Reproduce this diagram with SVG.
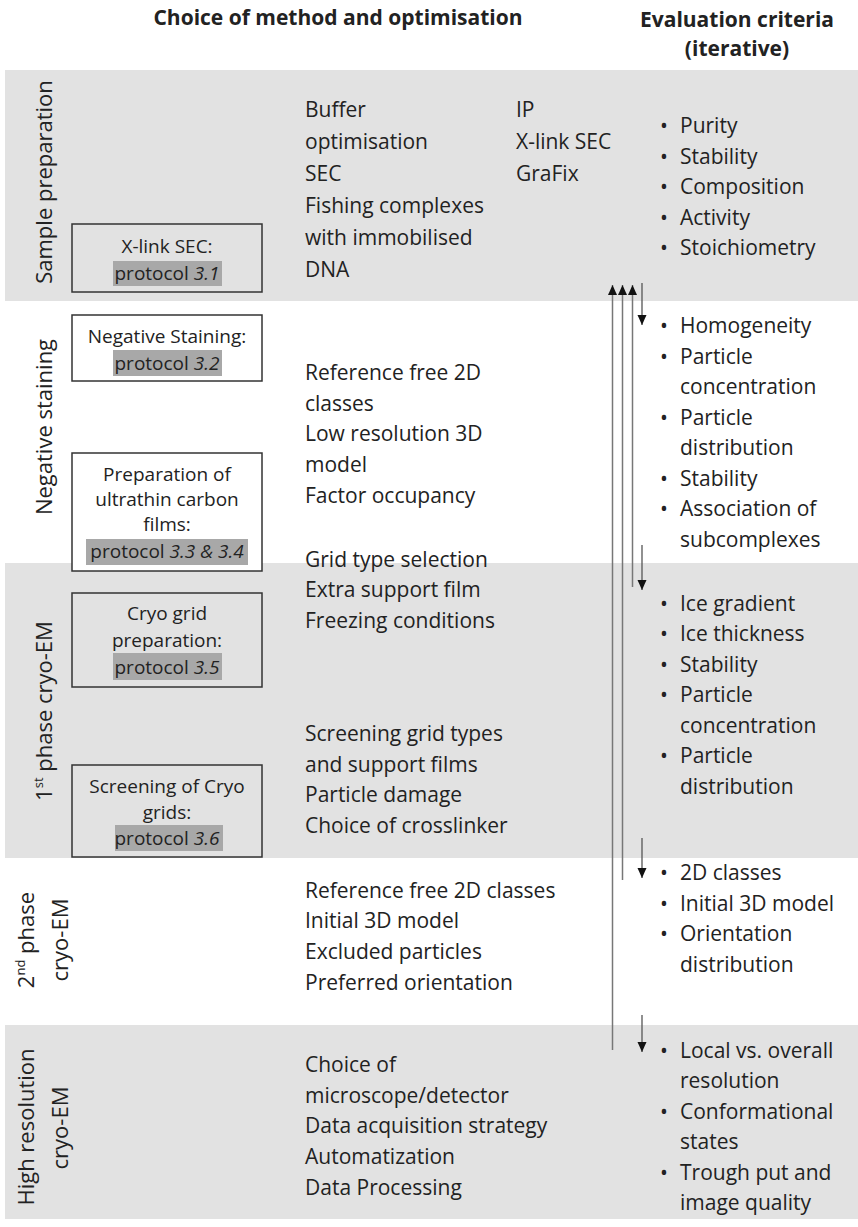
<svg xmlns="http://www.w3.org/2000/svg" width="858" height="1227" viewBox="0 0 858 1227">
<defs>
<style>
.t{font-family:"Open Sans","Noto Sans","DejaVu Sans",sans-serif;font-size:21px;fill:#222}
.b{font-family:"Open Sans","Noto Sans","DejaVu Sans",sans-serif;font-size:21px;font-weight:bold;fill:#222}
.s{font-family:"Open Sans","Noto Sans","DejaVu Sans",sans-serif;font-size:19px;fill:#222;text-anchor:middle}
.v{font-family:"Open Sans","Noto Sans","DejaVu Sans",sans-serif;font-size:22px;fill:#222;text-anchor:middle}
.band{fill:#e2e2e2}
.box{fill:none;stroke:#333;stroke-width:1.5}
.hl{fill:#a8a8a8}
.up{stroke:#777;stroke-width:1.5;fill:none}
.dn{stroke:#555;stroke-width:1.3;fill:none}
</style>
<marker id="ah" viewBox="0 0 10 10" refX="10" refY="5" markerWidth="10" markerHeight="10" markerUnits="userSpaceOnUse" orient="auto">
<path d="M0,0.5 L10,5 L0,9.5 Z" fill="#111"/>
</marker>
</defs>
<rect width="858" height="1227" fill="#fff"/>
<g id="bands">
<rect class="band" x="5" y="70" width="853" height="231"/>
<rect class="band" x="5" y="563" width="853" height="295"/>
<rect class="band" x="5" y="1025" width="853" height="194"/>
</g>
<g id="headers">
<text class="b" x="338" y="25" text-anchor="middle">Choice of method and optimisation</text>
<text class="b" x="737" y="27" text-anchor="middle">Evaluation criteria</text>
<text class="b" x="737" y="56" text-anchor="middle">(iterative)</text>
</g>
<g id="stage-labels">
<text class="v" transform="translate(52,182) rotate(-90)">Sample preparation</text>
<text class="v" transform="translate(52,427) rotate(-90)">Negative staining</text>
<text class="v" transform="translate(52,711) rotate(-90)">1<tspan font-size="13" dy="-9">st</tspan><tspan dy="9"> phase cryo-EM</tspan></text>
<text class="v" transform="translate(34,940) rotate(-90)">2<tspan font-size="13" dy="-9">nd</tspan><tspan dy="9"> phase</tspan></text>
<text class="v" transform="translate(68,940) rotate(-90)">cryo-EM</text>
<text class="v" transform="translate(34,1127) rotate(-90)">High resolution</text>
<text class="v" transform="translate(68,1128) rotate(-90)">cryo-EM</text>
</g>
<g id="box-xlink">
<rect class="box" x="72" y="224" width="190" height="68"/>
<rect class="hl" x="113" y="261" width="109" height="25"/>
<text class="s" x="167" y="253" font-size="18.5">X-link SEC:</text>
<text class="s" x="167" y="280" font-size="18.5">protocol <tspan font-style="italic">3.1</tspan></text>
</g>
<g id="box-negstain">
<rect class="box" x="72" y="315" width="190" height="66"/>
<rect class="hl" x="113" y="350" width="109" height="26"/>
<text class="s" x="167" y="343">Negative Staining:</text>
<text class="s" x="167" y="370">protocol <tspan font-style="italic">3.2</tspan></text>
</g>
<g id="box-carbon">
<rect class="box" x="72" y="453" width="190" height="118" style="fill:#fff"/>
<rect class="hl" x="86" y="539" width="162" height="26"/>
<text class="s" x="167" y="481">Preparation of</text>
<text class="s" x="167" y="506">ultrathin carbon</text>
<text class="s" x="167" y="531">films:</text>
<text class="s" x="167" y="558">protocol <tspan font-style="italic">3.3 &amp; 3.4</tspan></text>
</g>
<g id="box-cryogrid">
<rect class="box" x="72" y="593" width="190" height="94"/>
<rect class="hl" x="113" y="653" width="109" height="27"/>
<text class="s" x="167" y="620">Cryo grid</text>
<text class="s" x="167" y="647">preparation:</text>
<text class="s" x="167" y="674">protocol <tspan font-style="italic">3.5</tspan></text>
</g>
<g id="box-screening">
<rect class="box" x="72" y="765" width="190" height="92"/>
<rect class="hl" x="115" y="825" width="108" height="26"/>
<text class="s" x="167" y="793">Screening of Cryo</text>
<text class="s" x="167" y="819">grids:</text>
<text class="s" x="167" y="845">protocol <tspan font-style="italic">3.6</tspan></text>
</g>
<g id="methods">
<text class="t" x="305" y="117">Buffer</text>
<text class="t" x="305" y="149">optimisation</text>
<text class="t" x="305" y="181">SEC</text>
<text class="t" x="305" y="213">Fishing complexes</text>
<text class="t" x="305" y="245">with immobilised</text>
<text class="t" x="305" y="277">DNA</text>
<text class="t" x="516" y="117">IP</text>
<text class="t" x="516" y="149">X-link SEC</text>
<text class="t" x="516" y="181">GraFix</text>
<text class="t" x="305" y="380">Reference free 2D</text>
<text class="t" x="305" y="411">classes</text>
<text class="t" x="305" y="441">Low resolution 3D</text>
<text class="t" x="305" y="472">model</text>
<text class="t" x="305" y="503">Factor occupancy</text>
<text class="t" x="305" y="567">Grid type selection</text>
<text class="t" x="305" y="597">Extra support film</text>
<text class="t" x="305" y="628">Freezing conditions</text>
<text class="t" x="305" y="741">Screening grid types</text>
<text class="t" x="305" y="772">and support films</text>
<text class="t" x="305" y="802">Particle damage</text>
<text class="t" x="305" y="833">Choice of crosslinker</text>
<text class="t" x="305" y="898">Reference free 2D classes</text>
<text class="t" x="305" y="928">Initial 3D model</text>
<text class="t" x="305" y="959">Excluded particles</text>
<text class="t" x="305" y="990">Preferred orientation</text>
<text class="t" x="305" y="1072">Choice of</text>
<text class="t" x="305" y="1103">microscope/detector</text>
<text class="t" x="305" y="1133">Data acquisition strategy</text>
<text class="t" x="305" y="1164">Automatization</text>
<text class="t" x="305" y="1195">Data Processing</text>
</g>
<g id="criteria">
<text class="t" x="660" y="133">•<tspan x="680">Purity</tspan></text>
<text class="t" x="660" y="164">•<tspan x="680">Stability</tspan></text>
<text class="t" x="660" y="194">•<tspan x="680">Composition</tspan></text>
<text class="t" x="660" y="225">•<tspan x="680">Activity</tspan></text>
<text class="t" x="660" y="255">•<tspan x="680">Stoichiometry</tspan></text>
<text class="t" x="660" y="333">•<tspan x="680">Homogeneity</tspan></text>
<text class="t" x="660" y="364">•<tspan x="680">Particle</tspan></text>
<text class="t" x="680" y="394">concentration</text>
<text class="t" x="660" y="425">•<tspan x="680">Particle</tspan></text>
<text class="t" x="680" y="455">distribution</text>
<text class="t" x="660" y="486">•<tspan x="680">Stability</tspan></text>
<text class="t" x="660" y="516">•<tspan x="680">Association of</tspan></text>
<text class="t" x="680" y="547">subcomplexes</text>
<text class="t" x="660" y="611">•<tspan x="680">Ice gradient</tspan></text>
<text class="t" x="660" y="641">•<tspan x="680">Ice thickness</tspan></text>
<text class="t" x="660" y="672">•<tspan x="680">Stability</tspan></text>
<text class="t" x="660" y="702">•<tspan x="680">Particle</tspan></text>
<text class="t" x="680" y="733">concentration</text>
<text class="t" x="660" y="763">•<tspan x="680">Particle</tspan></text>
<text class="t" x="680" y="794">distribution</text>
<text class="t" x="660" y="880">•<tspan x="680">2D classes</tspan></text>
<text class="t" x="660" y="911">•<tspan x="680">Initial 3D model</tspan></text>
<text class="t" x="660" y="941">•<tspan x="680">Orientation</tspan></text>
<text class="t" x="680" y="972">distribution</text>
<text class="t" x="660" y="1058">•<tspan x="680">Local vs. overall</tspan></text>
<text class="t" x="680" y="1088">resolution</text>
<text class="t" x="660" y="1119">•<tspan x="680">Conformational</tspan></text>
<text class="t" x="680" y="1149">states</text>
<text class="t" x="660" y="1180">•<tspan x="680">Trough put and</tspan></text>
<text class="t" x="680" y="1210">image quality</text>
</g>
<g id="connectors">
<line class="up" x1="612.5" y1="1050" x2="612.5" y2="285" marker-end="url(#ah)"/>
<line class="up" x1="622.5" y1="880" x2="622.5" y2="285" marker-end="url(#ah)"/>
<line class="up" x1="632.5" y1="587" x2="632.5" y2="285" marker-end="url(#ah)"/>
<line class="dn" x1="642" y1="283" x2="642" y2="325" marker-end="url(#ah)"/>
<line class="dn" x1="642" y1="545" x2="642" y2="590" marker-end="url(#ah)"/>
<line class="dn" x1="642" y1="838" x2="642" y2="878" marker-end="url(#ah)"/>
<line class="dn" x1="642" y1="1015" x2="642" y2="1052" marker-end="url(#ah)"/>
</g>
</svg>
